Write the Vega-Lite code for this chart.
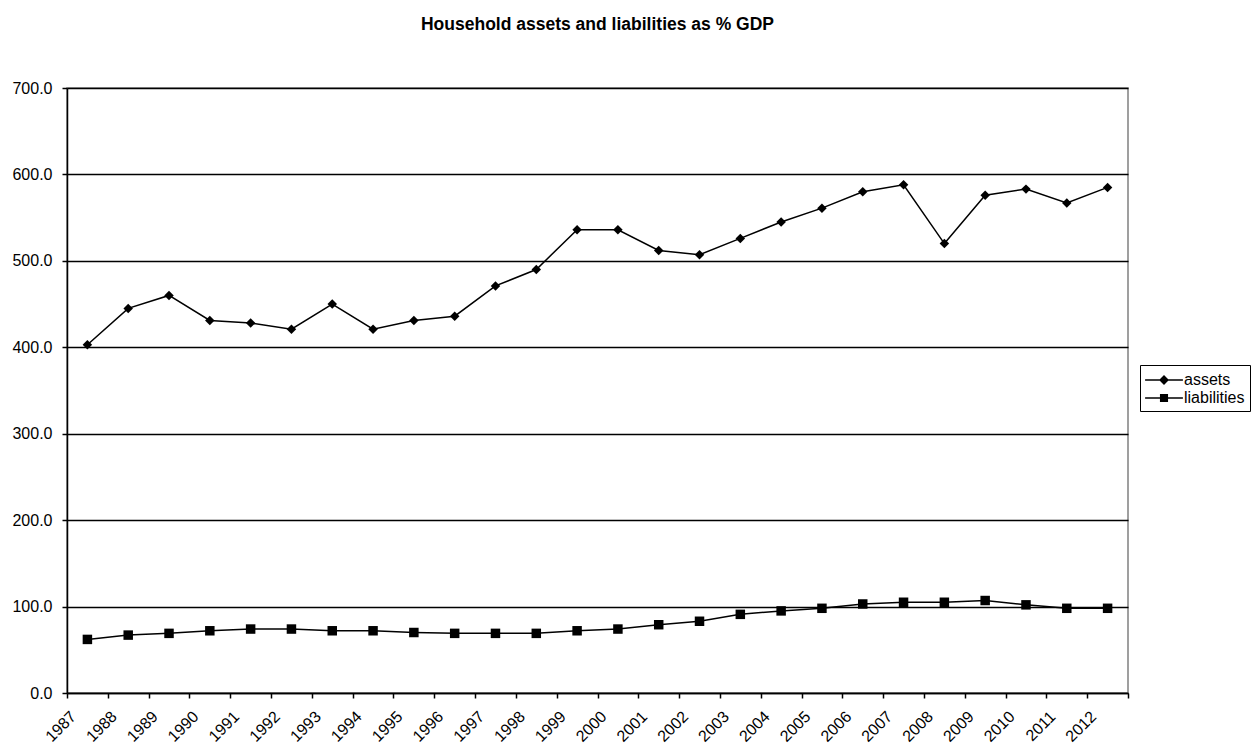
{
  "$schema": "https://vega.github.io/schema/vega-lite/v6.json",
  "autosize": {"type": "none"},
  "padding": {"left": 67, "top": 88, "right": 124, "bottom": 52},
  "width": 1061,
  "height": 605,
  "background": "white",
  "title": {
    "text": "Household assets and liabilities as % GDP",
    "fontSize": 17.5,
    "fontWeight": "bold",
    "font": "Liberation Sans",
    "color": "black",
    "anchor": "middle",
    "frame": "group",
    "baseline": "alphabetic",
    "offset": 33
  },
  "config": {
    "font": "Liberation Sans",
    "view": {"stroke": "#808080", "strokeWidth": 1.5},
    "axis": {
      "labelFont": "Liberation Sans",
      "labelFontSize": 16,
      "labelColor": "black",
      "domainColor": "black",
      "domainWidth": 1.5,
      "tickColor": "black",
      "tickWidth": 1.5,
      "tickSize": 5,
      "titleFontSize": 12
    },
    "legend": {
      "labelFont": "Liberation Sans",
      "labelFontSize": 16,
      "labelColor": "black"
    }
  },
  "data": {
    "values": [
      {"year": "1987", "series": "assets", "value": 403},
      {"year": "1988", "series": "assets", "value": 445},
      {"year": "1989", "series": "assets", "value": 460},
      {"year": "1990", "series": "assets", "value": 431},
      {"year": "1991", "series": "assets", "value": 428},
      {"year": "1992", "series": "assets", "value": 421},
      {"year": "1993", "series": "assets", "value": 450},
      {"year": "1994", "series": "assets", "value": 421},
      {"year": "1995", "series": "assets", "value": 431},
      {"year": "1996", "series": "assets", "value": 436},
      {"year": "1997", "series": "assets", "value": 471},
      {"year": "1998", "series": "assets", "value": 490},
      {"year": "1999", "series": "assets", "value": 536},
      {"year": "2000", "series": "assets", "value": 536},
      {"year": "2001", "series": "assets", "value": 512},
      {"year": "2002", "series": "assets", "value": 507},
      {"year": "2003", "series": "assets", "value": 526},
      {"year": "2004", "series": "assets", "value": 545},
      {"year": "2005", "series": "assets", "value": 561},
      {"year": "2006", "series": "assets", "value": 580},
      {"year": "2007", "series": "assets", "value": 588},
      {"year": "2008", "series": "assets", "value": 520},
      {"year": "2009", "series": "assets", "value": 576},
      {"year": "2010", "series": "assets", "value": 583},
      {"year": "2011", "series": "assets", "value": 567},
      {"year": "2012", "series": "assets", "value": 585},
      {"year": "1987", "series": "liabilities", "value": 62},
      {"year": "1988", "series": "liabilities", "value": 67},
      {"year": "1989", "series": "liabilities", "value": 69},
      {"year": "1990", "series": "liabilities", "value": 72},
      {"year": "1991", "series": "liabilities", "value": 74},
      {"year": "1992", "series": "liabilities", "value": 74},
      {"year": "1993", "series": "liabilities", "value": 72},
      {"year": "1994", "series": "liabilities", "value": 72},
      {"year": "1995", "series": "liabilities", "value": 70},
      {"year": "1996", "series": "liabilities", "value": 69},
      {"year": "1997", "series": "liabilities", "value": 69},
      {"year": "1998", "series": "liabilities", "value": 69},
      {"year": "1999", "series": "liabilities", "value": 72},
      {"year": "2000", "series": "liabilities", "value": 74},
      {"year": "2001", "series": "liabilities", "value": 79},
      {"year": "2002", "series": "liabilities", "value": 83},
      {"year": "2003", "series": "liabilities", "value": 91},
      {"year": "2004", "series": "liabilities", "value": 95},
      {"year": "2005", "series": "liabilities", "value": 98},
      {"year": "2006", "series": "liabilities", "value": 103},
      {"year": "2007", "series": "liabilities", "value": 105},
      {"year": "2008", "series": "liabilities", "value": 105},
      {"year": "2009", "series": "liabilities", "value": 107},
      {"year": "2010", "series": "liabilities", "value": 102},
      {"year": "2011", "series": "liabilities", "value": 98},
      {"year": "2012", "series": "liabilities", "value": 98}
    ]
  },
  "encoding": {
    "x": {
      "field": "year",
      "type": "ordinal",
      "bandPosition": 0.5,
      "scale": {"type": "band", "paddingInner": 0, "paddingOuter": 0},
      "axis": {
        "title": null,
        "tickBand": "extent",
        "labelAngle": -45,
        "labelAlign": "right",
        "labelBaseline": "top",
        "labelOffset": -20,
        "labelPadding": 10,
        "grid": false
      }
    },
    "y": {
      "field": "value",
      "type": "quantitative",
      "scale": {"domain": [0, 700], "nice": false, "zero": true},
      "axis": {
        "title": null,
        "values": [0, 100, 200, 300, 400, 500, 600, 700],
        "format": ".1f",
        "labelPadding": 10,
        "grid": true,
        "gridColor": "black",
        "gridWidth": 1.5,
        "gridOpacity": 1
      }
    }
  },
  "layer": [
    {
      "mark": {"type": "line", "color": "black", "strokeWidth": 1.5},
      "encoding": {"detail": {"field": "series"}}
    },
    {
      "mark": {"type": "point", "filled": true, "color": "black", "opacity": 1, "size": 90},
      "encoding": {
        "shape": {
          "field": "series",
          "type": "nominal",
          "scale": {"domain": ["assets", "liabilities"], "range": ["diamond", "square"]},
          "legend": null
        }
      }
    },
    {
      "transform": [{"filter": "datum.value < 0"}],
      "mark": {"type": "point", "filled": true, "color": "black", "opacity": 1},
      "encoding": {
        "shape": {
          "field": "series",
          "type": "nominal",
          "scale": {
            "domain": ["assets", "liabilities"],
            "range": [
              "M-2.1,-0.08H2.1V0.08H-2.1ZM0,-0.55L0.55,0L0,0.55L-0.55,0Z",
              "M-2.1,-0.08H2.1V0.08H-2.1ZM-0.45,-0.45H0.45V0.45H-0.45Z"
            ]
          },
          "legend": {
            "title": null,
            "orient": "none",
            "legendX": 1073,
            "legendY": 277,
            "strokeColor": "black",
            "fillColor": "white",
            "padding": 5,
            "rowPadding": 0,
            "symbolOffset": 9,
            "labelOffset": 10,
            "symbolSize": 324,
            "symbolFillColor": "black",
            "symbolOpacity": 1
          }
        }
      }
    }
  ],
  "resolve": {"scale": {"shape": "independent"}}
}
